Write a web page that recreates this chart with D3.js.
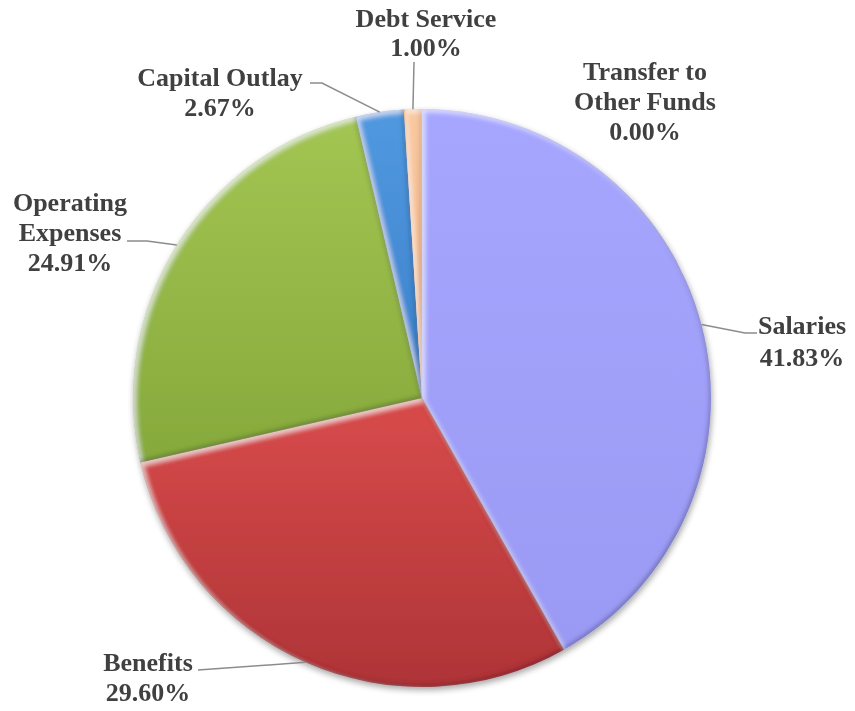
<!DOCTYPE html>
<html>
<head>
<meta charset="utf-8">
<script src="https://cdn.jsdelivr.net/npm/d3@7/dist/d3.min.js"></script>
<style>
  html, body { margin: 0; padding: 0; background: #ffffff; }
  svg { display: block; }
  .lbl { font-family: "Liberation Serif", "Times New Roman", serif; font-weight: bold; font-size: 26px; fill: #404040; }
</style>
</head>
<body>
<svg id="chart" width="855" height="711"></svg>
<script>
// Expenditure shares by category (percent of total)
const categories = ["Salaries", "Benefits", "Operating Expenses", "Capital Outlay", "Debt Service", "Transfer to Other Funds"];
const values = [41.83, 29.60, 24.91, 2.67, 1.00, 0.00];
const labelLines = [["Salaries"], ["Benefits"], ["Operating", "Expenses"], ["Capital Outlay"], ["Debt Service"], ["Transfer to", "Other Funds"]];

// slice fills: [top shade, bottom shade]
const sliceColors = [
  ["#a6a6ff", "#9a9af4"],
  ["#d94b4b", "#ae3437"],
  ["#a3c552", "#86a93c"],
  ["#5199e0", "#3b80ca"],
  ["#f9c9a0", "#efb07f"],
  ["#c0c0c0", "#a0a0a0"]
];

// label layout: anchor centre x, first baseline, line step, leader polyline (label side first)
const labelLayout = [
  { x: 802, y: 334, step: 32, leader: [[757, 333], [745, 333]] },
  { x: 148, y: 671, step: 30, leader: [[198, 670]] },
  { x: 70,  y: 211, step: 30, leader: [[127, 241], [147, 241]] },
  { x: 220, y: 86,  step: 30, leader: [[310, 83], [322, 83]] },
  { x: 426, y: 27,  step: 29, leader: [[414, 62]] },
  { x: 645, y: 80,  step: 30, leader: null }
];

const cx = 422, cy = 398, R = 289;

const svg = d3.select("#chart");
const defs = svg.append("defs");

// per-slice vertical gradients
sliceColors.forEach((c, i) => {
  const g = defs.append("linearGradient")
    .attr("id", "grad" + i)
    .attr("x1", 0).attr("y1", 0).attr("x2", 0).attr("y2", 1);
  g.append("stop").attr("offset", "0%").attr("stop-color", c[0]);
  g.append("stop").attr("offset", "100%").attr("stop-color", c[1]);
});

// soft bevel: light inner edge from top-left, dark inner edge toward bottom-right
const bevel = defs.append("filter").attr("id", "bevel")
  .attr("x", "-10%").attr("y", "-10%").attr("width", "120%").attr("height", "120%");
bevel.append("feFlood").attr("flood-color", "#ffffff").attr("flood-opacity", 0.6).attr("result", "w");
bevel.append("feComposite").attr("in", "w").attr("in2", "SourceAlpha").attr("operator", "out").attr("result", "wOut");
bevel.append("feGaussianBlur").attr("in", "wOut").attr("stdDeviation", 2.5).attr("result", "wBlur");
bevel.append("feOffset").attr("in", "wBlur").attr("dx", 2.5).attr("dy", 2.5).attr("result", "wOff");
bevel.append("feComposite").attr("in", "wOff").attr("in2", "SourceAlpha").attr("operator", "in").attr("result", "hi");
bevel.append("feFlood").attr("flood-color", "#000030").attr("flood-opacity", 0.45).attr("result", "k");
bevel.append("feComposite").attr("in", "k").attr("in2", "SourceAlpha").attr("operator", "out").attr("result", "kOut");
bevel.append("feGaussianBlur").attr("in", "kOut").attr("stdDeviation", 2).attr("result", "kBlur");
bevel.append("feOffset").attr("in", "kBlur").attr("dx", -2).attr("dy", -2).attr("result", "kOff");
bevel.append("feComposite").attr("in", "kOff").attr("in2", "SourceAlpha").attr("operator", "in").attr("result", "sh");
const bm = bevel.append("feMerge");
bm.append("feMergeNode").attr("in", "SourceGraphic");
bm.append("feMergeNode").attr("in", "hi");
bm.append("feMergeNode").attr("in", "sh");

// drop shadow beneath the whole pie
const drop = defs.append("filter").attr("id", "drop")
  .attr("x", "-10%").attr("y", "-10%").attr("width", "120%").attr("height", "120%");
drop.append("feGaussianBlur").attr("in", "SourceAlpha").attr("stdDeviation", 3).attr("result", "b");
drop.append("feOffset").attr("in", "b").attr("dx", 1).attr("dy", 3).attr("result", "o");
drop.append("feComponentTransfer").attr("in", "o").attr("result", "oa")
  .append("feFuncA").attr("type", "linear").attr("slope", 0.35);
const dm = drop.append("feMerge");
dm.append("feMergeNode").attr("in", "oa");
dm.append("feMergeNode").attr("in", "SourceGraphic");

const pie = d3.pie().sort(null).value(d => d)(values);
const arc = d3.arc().innerRadius(0).outerRadius(R);
const edgeArc = d3.arc().innerRadius(R).outerRadius(R);

const gPie = svg.append("g")
  .attr("transform", `translate(${cx},${cy})`)
  .attr("filter", "url(#drop)");

gPie.selectAll("path.slice")
  .data(pie.filter(d => d.value > 0))
  .join("path")
  .attr("class", "slice")
  .attr("d", arc)
  .attr("fill", d => `url(#grad${d.index})`)
  .attr("filter", "url(#bevel)");

// leader lines from slice mid-angle on the rim to the label
const gLead = svg.append("g");
pie.forEach((d, i) => {
  const lay = labelLayout[i];
  if (!lay.leader) return;
  const [ex, ey] = edgeArc.centroid(d);
  const pts = lay.leader.concat([[cx + ex, cy + ey]]);
  gLead.append("path")
    .attr("d", d3.line()(pts))
    .attr("fill", "none")
    .attr("stroke", "#8c8c8c")
    .attr("stroke-width", 1.5);
});

// category labels with percentage
const gLab = svg.append("g");
categories.forEach((name, i) => {
  const lay = labelLayout[i];
  const lines = labelLines[i].concat([values[i].toFixed(2) + "%"]);
  const t = gLab.append("text")
    .attr("class", "lbl")
    .attr("text-anchor", "middle")
    .attr("x", lay.x)
    .attr("y", lay.y);
  lines.forEach((ln, k) => {
    t.append("tspan")
      .attr("x", lay.x)
      .attr("y", lay.y + k * lay.step)
      .text(ln);
  });
});
</script>
</body>
</html>
